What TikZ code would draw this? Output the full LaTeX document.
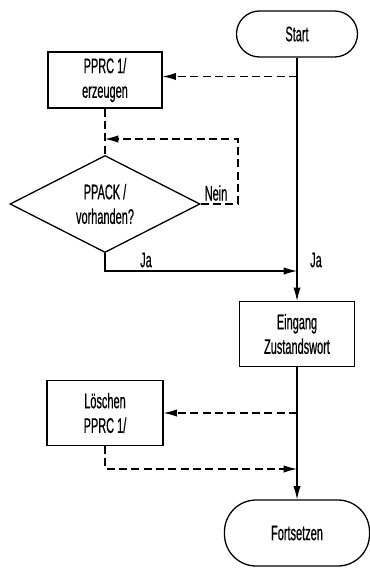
\documentclass[tikz,border=0pt]{standalone}
\usepackage{fontspec}
\setmainfont{Liberation Sans}[FakeStretch=0.52,FakeBold=0.6]
\usetikzlibrary{arrows.meta,shapes.geometric}

\begin{document}
\begin{tikzpicture}[x=0.03cm,y=-0.03cm,
    font=\fontsize{18}{21}\selectfont,
    term/.style={draw,line width=1.1pt,rounded corners=0.69cm,minimum width=3.63cm,minimum height=1.38cm,align=center},
    proc/.style={draw,line width=1.1pt,minimum width=3.45cm,minimum height=1.8cm,align=center},
    decide/.style={draw,diamond,line width=1.1pt,aspect=2,inner sep=0pt,minimum width=5.7cm,minimum height=2.91cm,align=center},
    flow/.style={line width=0.9pt,-{Latex[length=4mm,width=2.2mm]}},
    dflow/.style={flow,dash pattern=on 2.4mm off 1.3mm}]

      \useasboundingbox (0,0) rectangle (370,568);

      % nodes
      \node[term]  (start) at (297,34)  {Start};
      \node[proc,minimum width=3.42cm,minimum height=1.68cm] (pprc) at (105,80) {PPRC 1/\\erzeugen};
      \node[decide] (ppack) at (105,204) {PPACK /\\vorhanden?};
      \node[proc,minimum height=1.95cm] (eingang) at (297,334) {Eingang\\Zustandswort};
      \node[proc,minimum width=3.48cm,minimum height=1.95cm] (loeschen) at (105,413) {Löschen\\PPRC 1/};
      \node[term,minimum width=4.35cm,minimum height=1.98cm,rounded corners=0.95cm] (fort) at (297,533) {Fortsetzen};

      % Punkte auf der Hauptlinie
      \coordinate (a1) at (297,76.5);
      \coordinate (a2) at (297,271);
      \coordinate (a3) at (297,413);
      \coordinate (a4) at (297,469);
      \coordinate (n1) at (238,139);
      \coordinate (j1) at (105,271);

      % Verbindungen
      \draw[flow] (start) -- (eingang);
      \draw[flow] (eingang) -- (fort);
      \draw[dflow] (a1) -- (pprc.east |- a1);
      \draw[dflow,-] (pprc) -- (ppack);
      \draw[dflow] (ppack.east) -| (n1) -- (pprc.south |- n1);
      \draw[flow] (ppack.south) -- (j1) -- (a2);
      \draw[dflow] (a3) -- (loeschen.east);
      \draw[dflow] (loeschen.south) |- (a4);

      % Beschriftungen
      \node at (216,193) {Nein};
      \node at (146,260) {Ja};
      \node at (316,260) {Ja};

    \end{tikzpicture}
\end{document}
